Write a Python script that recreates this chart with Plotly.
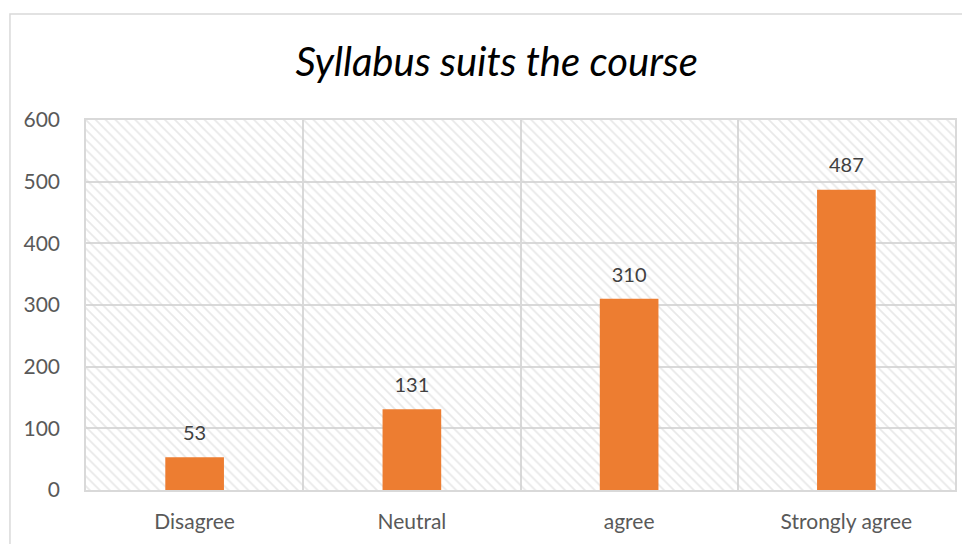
import plotly.graph_objects as go

categories = ["Disagree", "Neutral", "agree", "Strongly agree"]
values = [53, 131, 310, 487]
y_ticks = [0, 100, 200, 300, 400, 500, 600]

title_text = "Syllabus suits the course"
bar_color = "#ED7D31"
grid_color = "#D9D9D9"
font_family = "Lato, Open Sans, sans-serif"

fig = go.Figure()

# hatched plot-area background (fills each category band up to the axis max)
fig.add_trace(go.Bar(
    x=categories,
    y=[max(y_ticks)] * len(categories),
    width=1,
    marker=dict(
        color="rgba(0,0,0,0)",
        line=dict(width=0),
        pattern=dict(shape="\\", fgcolor="#D2D2D2", bgcolor="rgba(0,0,0,0)",
                     size=7, solidity=0.25),
    ),
    hoverinfo="skip",
    showlegend=False,
))

fig.add_trace(go.Bar(
    x=categories,
    y=values,
    width=0.27,
    marker=dict(color=bar_color, line=dict(width=0)),
    hoverinfo="x+y",
    showlegend=False,
))

# data labels placed above each bar
fig.add_trace(go.Scatter(
    x=categories,
    y=values,
    mode="markers+text",
    marker=dict(size=18, color="rgba(0,0,0,0)"),
    text=[str(v) for v in values],
    textposition="top center",
    textfont=dict(size=20, color="#404040", family=font_family),
    cliponaxis=False,
    hoverinfo="skip",
    showlegend=False,
))

fig.update_layout(
    width=962, height=536,
    margin=dict(l=78, r=15, t=112, b=54),
    paper_bgcolor="white",
    plot_bgcolor="white",
    barmode="overlay",
    title=dict(
        text=f"<i>{title_text}</i>",
        x=0.508, xanchor="center", y=0.9, yanchor="middle",
        font=dict(size=40, color="#000000", family=font_family),
    ),
    font=dict(family=font_family),
    shapes=[dict(
        type="rect", xref="paper", yref="paper",
        x0=-0.0875, x1=1.2, y0=-0.4, y1=1.2865,
        line=dict(color=grid_color, width=1.5),
        fillcolor="rgba(0,0,0,0)", layer="below",
    )],
)

fig.update_xaxes(
    type="category",
    tickson="boundaries",
    showgrid=True, gridcolor=grid_color, gridwidth=1.5,
    showline=True, linecolor=grid_color, linewidth=1.5, mirror=True,
    ticks="", ticklabelstandoff=12,
    tickfont=dict(size=21, color="#595959", family=font_family),
    range=[-0.5, len(categories) - 0.5],
)
fig.update_yaxes(
    range=[min(y_ticks), max(y_ticks)],
    tickvals=y_ticks,
    showgrid=True, gridcolor=grid_color, gridwidth=1.5,
    showline=True, linecolor=grid_color, linewidth=1.5, mirror=True,
    zeroline=False,
    ticks="outside", ticklen=20, tickcolor="rgba(0,0,0,0)",
    tickfont=dict(size=21, color="#595959", family=font_family),
)

fig.write_html("out.html")
